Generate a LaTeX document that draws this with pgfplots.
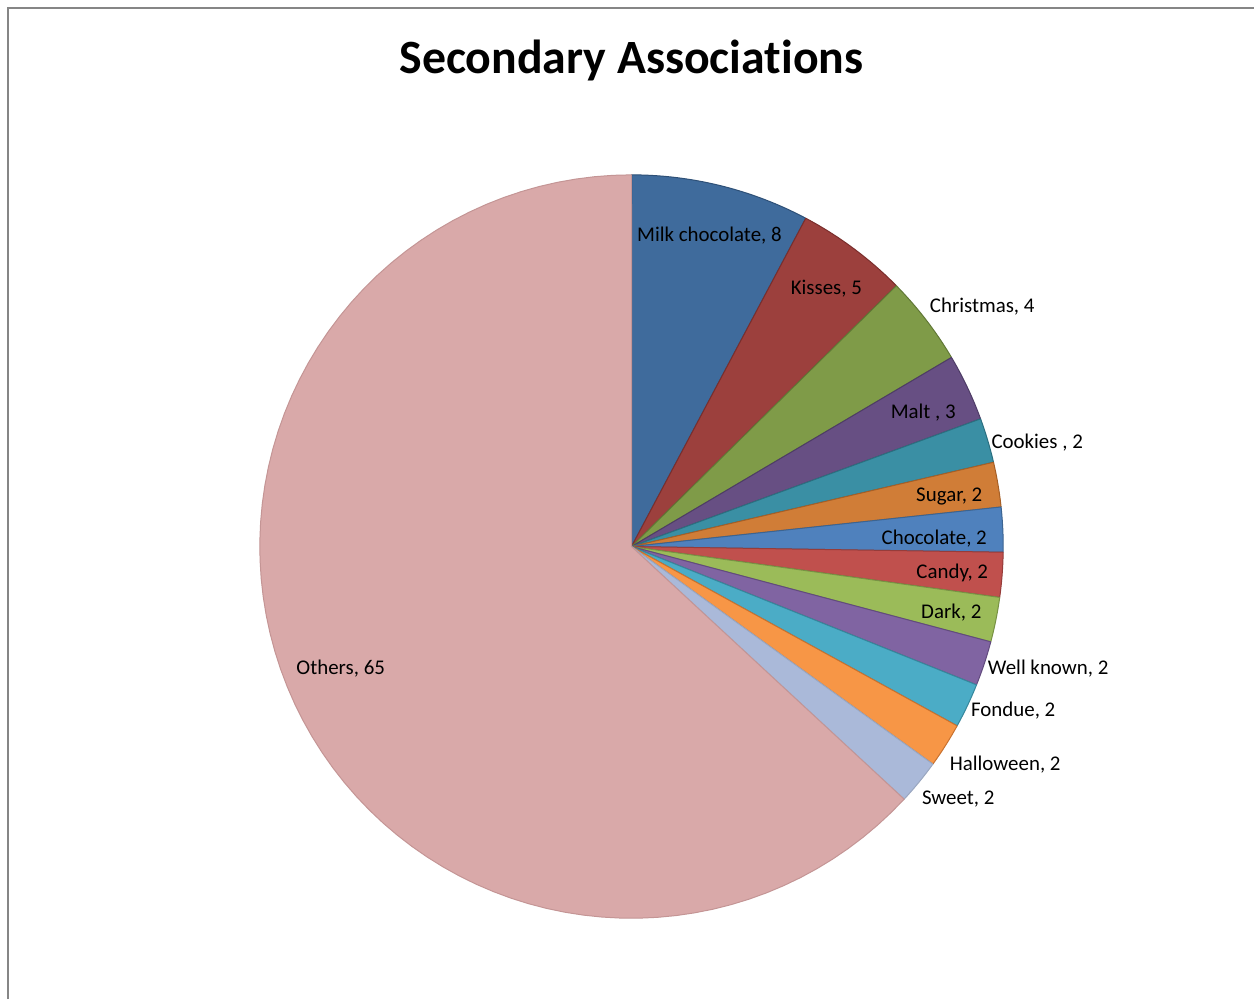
\documentclass[border=0pt]{standalone}
\usepackage{pgfplots}
\pgfplotsset{compat=1.18}
\usepackage{fontspec}
\setmainfont{Carlito}[Ligatures={NoCommon}]
\definecolor{c0}{HTML}{3F6B9C}
\definecolor{c1}{HTML}{9C403D}
\definecolor{c2}{HTML}{7F9B48}
\definecolor{c3}{HTML}{674F83}
\definecolor{c4}{HTML}{3A8FA4}
\definecolor{c5}{HTML}{D07D37}
\definecolor{c6}{HTML}{4F81BD}
\definecolor{c7}{HTML}{C0504D}
\definecolor{c8}{HTML}{9BBB59}
\definecolor{c9}{HTML}{8064A2}
\definecolor{c10}{HTML}{4BACC6}
\definecolor{c11}{HTML}{F79646}
\definecolor{c12}{HTML}{AAB9D9}
\definecolor{c13}{HTML}{D9A9A9}
\definecolor{e0}{HTML}{2E5077}
\definecolor{e1}{HTML}{7A2E2C}
\definecolor{e2}{HTML}{617836}
\definecolor{e3}{HTML}{4E3C66}
\definecolor{e4}{HTML}{2B6F80}
\definecolor{e5}{HTML}{A65F26}
\definecolor{e6}{HTML}{3C6491}
\definecolor{e7}{HTML}{963C3A}
\definecolor{e8}{HTML}{789244}
\definecolor{e9}{HTML}{624B7E}
\definecolor{e10}{HTML}{36879C}
\definecolor{e11}{HTML}{C9722F}
\definecolor{e12}{HTML}{9AA7C0}
\definecolor{e13}{HTML}{C49595}
\definecolor{bordergray}{HTML}{868686}
\begin{document}
\begin{tikzpicture}[lab/.style={font=\fontsize{21}{25}\selectfont, inner sep=0pt}]
% slice values: Milk chocolate, Kisses, Christmas, Malt, Cookies, Sugar, Chocolate,
% Candy, Dark, Well known, Fondue, Halloween, Sweet, Others
\gdef\cum{0}
\foreach \v [count=\i from 0] in {8,5,4,3,2,2,2,2,2,2,2,2,2,65} {
  \pgfmathsetmacro\s{90-(360/103)*\cum}
  \pgfmathsetmacro\newcum{\cum+\v}
  \pgfmathsetmacro\e{90-(360/103)*\newcum}
  \expandafter\xdef\csname sA\i\endcsname{\s}
  \expandafter\xdef\csname sB\i\endcsname{\e}
  \xdef\cum{\newcum}
}
\begin{axis}[
  scale only axis, width=1255bp, height=1000bp,
  xmin=0, xmax=1255, ymin=0, ymax=1000,
  hide axis, clip=false,
]
\fill[white] (axis cs:0,0) rectangle (axis cs:1255,1000);
\draw[bordergray, line width=2bp] (axis cs:8,0) -- (axis cs:8,992) -- (axis cs:1255,992);
\pgfplotsinvokeforeach{0,...,13}{
  \addplot[fill=c#1, draw=e#1, line width=1bp, line join=round,
    domain=\csname sB#1\endcsname:\csname sA#1\endcsname, samples=80, variable=\t]
    ({632+372*cos(\t)},{453+372*sin(\t)}) -- (axis cs:632,453) -- cycle;
}
\node[inner sep=0pt] at (axis cs:632,939) {\fontsize{48}{56}\selectfont\bfseries Secondary Associations};
\node[lab] at (axis cs:710,764) {Milk chocolate, 8};
\node[lab] at (axis cs:827,711) {Kisses, 5};
\node[lab] at (axis cs:983,693) {Christmas, 4};
\node[lab] at (axis cs:924,587) {Malt , 3};
\node[lab] at (axis cs:1038,557) {Cookies , 2};
\node[lab] at (axis cs:950,503) {Sugar, 2};
\node[lab] at (axis cs:935,461) {Chocolate, 2};
\node[lab] at (axis cs:953,427) {Candy, 2};
\node[lab] at (axis cs:952,387) {Dark, 2};
\node[lab] at (axis cs:1049,331) {Well known, 2};
\node[lab] at (axis cs:1014,289) {Fondue, 2};
\node[lab] at (axis cs:1006,235) {Halloween, 2};
\node[lab] at (axis cs:959,200) {Sweet, 2};
\node[lab] at (axis cs:341,331) {Others, 65};
\end{axis}
\end{tikzpicture}
\end{document}
